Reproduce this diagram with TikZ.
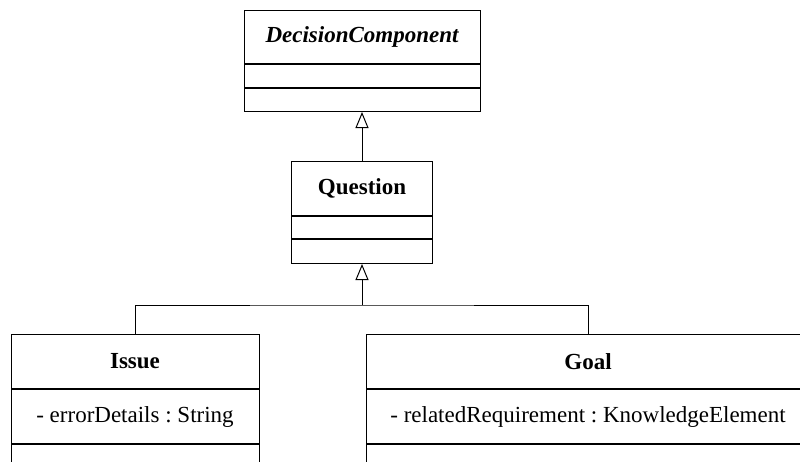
\documentclass[tikz,border=0pt]{standalone}
\usepackage{fontspec}
\setmainfont{Liberation Serif}
\usetikzlibrary{arrows.meta}
\frenchspacing
\begin{document}
\begin{tikzpicture}[x=1pt,y=-1pt,
  box/.style={draw=black, line width=1pt, inner sep=0pt, anchor=north,
    font=\fontsize{23}{27}\selectfont},
  classname/.style={box, font=\fontsize{23}{27}\selectfont\bfseries},
  inherit/.style={line width=1pt,
    -{Triangle[open, length=16pt, width=13pt, line width=1pt]}},
  link/.style={line width=1pt}]
\clip (0,0) rectangle (800,461);
\fill[white] (0,0) rectangle (800,461);

% abstract base class
\node[classname, minimum width=236pt, minimum height=53pt,
  font=\fontsize{23}{27}\selectfont\bfseries\itshape] (dc) at (362,10) {DecisionComponent};
\node[box, minimum width=236pt, minimum height=23pt] (dc-attr) at (dc.south) {};
\node[box, minimum width=236pt, minimum height=23pt] (dc-ops) at (dc-attr.south) {};

% Question
\node[classname, minimum width=141pt, minimum height=54pt] (q) at (362,161) {Question};
\node[box, minimum width=141pt, minimum height=22pt] (q-attr) at (q.south) {};
\node[box, minimum width=141pt, minimum height=24pt] (q-ops) at (q-attr.south) {};

% Issue
\node[classname, minimum width=248pt, minimum height=54pt] (issue) at (135,334) {Issue};
\node[box, minimum width=248pt, minimum height=54pt] (issue-attr) at (issue.south) {\frenchspacing - errorDetails : String};
\node[box, minimum width=248pt, minimum height=60pt] (issue-ops) at (issue-attr.south) {};

% Goal
\node[classname, minimum width=444pt, minimum height=54pt] (goal) at (588,334) {Goal};
\node[box, minimum width=444pt, minimum height=54pt] (goal-attr) at (goal.south) {\frenchspacing - relatedRequirement : KnowledgeElement};
\node[box, minimum width=444pt, minimum height=60pt] (goal-ops) at (goal-attr.south) {};

% generalisations
\coordinate (joint) at (362,305);
\draw[inherit] (q.north) -- (dc-ops.south);
\draw[link] (issue.north) |- (joint) -| (goal.north);
\draw[inherit] (joint) -- (q-ops.south);
\end{tikzpicture}
\end{document}
